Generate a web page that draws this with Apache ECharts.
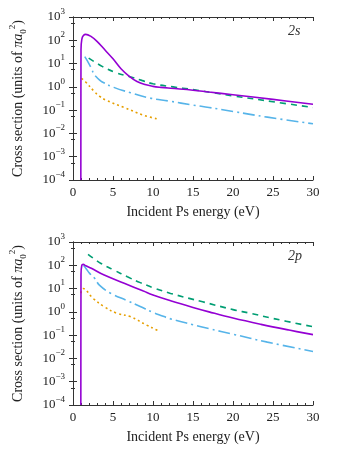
<!DOCTYPE html>
<html><head><meta charset="utf-8">
<script src="https://cdn.jsdelivr.net/npm/echarts@6/dist/echarts.min.js"></script>
<style>html,body{margin:0;padding:0;background:#fff}#c{width:338px;height:450px}</style>
</head><body><div id="c"></div>
<script>
// x ticks (eV) and y decades
var xTicks = [0, 5, 10, 15, 20, 25, 30];
var yExponents = [-4, -3, -2, -1, 0, 1, 2, 3];
var panelLabels = ['2s', '2p'];

// 2s panel: [energy eV, cross section]
var s2_purple = [[0.98,1e-4],[1.0,40],[1.1,110],[1.3,160],[1.6,180],[2.2,150],[3.0,90],[4.0,38],[5.0,16],[6.0,6],[7.0,2.9],[8.0,1.7],[9.0,1.25],[10,1.05],[11,0.95],[12.2,0.87],[15,0.72],[17,0.6],[20,0.46],[25,0.29],[30,0.18]];
var s2_green = [[1.96,17],[3.7,7.4],[5.35,4.1],[7.0,2.8],[8.6,1.9],[10,1.35],[12.5,1.0],[15,0.76],[17.5,0.56],[20,0.41],[25,0.23],[30,0.13]];
var s2_blue = [[1.47,20],[1.8,13],[2.29,6.3],[2.6,3.6],[2.9,2.7],[3.3,2.0],[3.6,1.66],[5.1,0.95],[7.2,0.56],[9.6,0.33],[12,0.245],[15,0.165],[17,0.13],[20,0.088],[24.3,0.05],[30,0.026]];
var s2_orange = [[1.06,2.3],[1.55,1.66],[2.7,0.61],[3.3,0.4],[4.1,0.27],[6.4,0.13],[8.8,0.061],[10.65,0.041]];

// 2p panel
var p2_purple = [[0.98,1e-4],[1.0,40],[1.1,100],[1.27,110],[1.6,95],[2.29,74],[3.9,38],[6.4,17],[8.8,7.8],[10,5.3],[12.2,3.0],[15,1.55],[17,1.0],[20,0.54],[23.5,0.29],[27,0.165],[30,0.105]];
var p2_green = [[1.88,295],[3.5,120],[5.1,63],[6.8,32],[8.4,18],[10,11],[12.2,6.2],[16.2,2.7],[20,1.25],[22.3,0.85],[25,0.52],[30,0.23]];
var p2_blue = [[1.3,100],[1.6,75],[2.08,45],[2.7,28],[3.3,14],[4.7,6.3],[6.8,3.0],[8.4,1.7],[10,0.95],[10.9,0.72],[12.2,0.5],[15,0.28],[17,0.19],[20,0.11],[24.3,0.05],[30,0.02]];
var p2_orange = [[0.98,6.3],[1.27,10],[2.5,3.8],[3.9,1.66],[5.5,0.87],[7.2,0.62],[9.2,0.27],[10.4,0.17],[10.85,0.14]];

var FONT = 'Liberation Serif';
var C_PURPLE = '#9400D3', C_GREEN = '#009E73', C_BLUE = '#56B4E9', C_ORANGE = '#E69F00';
var AX = '#333';
var TXT = '#222';

var grids = [
  {left: 68, top: 17, width: 245, height: 163},
  {left: 68, top: 242, width: 245, height: 163}
];

function supFmt(v) {
  var e = Math.round(Math.log10(v));
  if (yExponents.indexOf(e) < 0) return '';
  return '{b|10}{s|' + (e < 0 ? '\u2212' + (-e) : e) + '}';
}

var xAxes = [], yAxes = [];
grids.forEach(function (g, i) {
  xAxes.push({
    gridIndex: i, type: 'value', min: xTicks[0], max: xTicks[xTicks.length - 1], interval: 5,
    axisLine: {lineStyle: {color: AX, width: 1}},
    axisTick: {inside: true, length: 4, lineStyle: {color: AX}},
    minorTick: {show: true, splitNumber: 5, length: 2, lineStyle: {color: AX}},
    splitLine: {show: false},
    axisLabel: {color: TXT, fontFamily: FONT, fontSize: 13, margin: 6},
    name: 'Incident Ps energy (eV)', nameLocation: 'middle', nameGap: 25,
    nameTextStyle: {color: TXT, fontFamily: FONT, fontSize: 14}
  });
  xAxes.push({
    gridIndex: i, type: 'value', position: 'top', min: xTicks[0], max: xTicks[xTicks.length - 1], interval: 5,
    axisLine: {lineStyle: {color: AX, width: 1}},
    axisTick: {inside: true, length: 4, lineStyle: {color: AX}},
    minorTick: {show: true, splitNumber: 5, length: 2, lineStyle: {color: AX}},
    splitLine: {show: false}, axisLabel: {show: false}
  });
  yAxes.push({
    gridIndex: i, type: 'log', logBase: 10, min: 1e-4, max: 1e3, interval: 1,
    axisLine: {show: true, lineStyle: {color: AX, width: 1}},
    axisTick: {show: true, inside: true, length: 4, lineStyle: {color: AX}},
    minorTick: {show: true, splitNumber: 2, length: 2, lineStyle: {color: AX}},
    splitLine: {show: false},
    axisLabel: {
      color: TXT, fontFamily: FONT, margin: 8, formatter: supFmt,
      rich: {
        b: {fontFamily: FONT, fontSize: 13, color: TXT, lineHeight: 20, verticalAlign: 'middle'},
        s: {fontFamily: FONT, fontSize: 9, color: TXT, lineHeight: 9, verticalAlign: 'top'}
      }
    },
    name: 'Cross section (units of {i|\u03c0a}{sub|0}{sup|2})', nameLocation: 'middle', nameGap: 45, nameRotate: 90,
    nameTextStyle: {
      color: TXT, fontFamily: FONT, fontSize: 14,
      rich: {
        i: {fontFamily: FONT, fontSize: 14, fontStyle: 'italic', color: TXT, lineHeight: 20, verticalAlign: 'middle'},
        sub: {fontFamily: FONT, fontSize: 9, color: TXT, lineHeight: 9, verticalAlign: 'bottom'},
        sup: {fontFamily: FONT, fontSize: 9, color: TXT, lineHeight: 9, verticalAlign: 'top'}
      }
    }
  });
  yAxes.push({
    gridIndex: i, type: 'log', logBase: 10, min: 1e-4, max: 1e3, interval: 1, position: 'right',
    axisLine: {show: true, lineStyle: {color: AX, width: 1}},
    axisTick: {show: true, inside: true, length: 4, lineStyle: {color: AX}},
    minorTick: {show: true, splitNumber: 2, length: 2, lineStyle: {color: AX}},
    splitLine: {show: false}, axisLabel: {show: false}
  });
});

function ser(data, gi, color, type) {
  return {
    type: 'line', data: data, xAxisIndex: gi * 2, yAxisIndex: gi * 2,
    showSymbol: false, smooth: 0.4, clip: true,
    lineStyle: {color: color, width: 1.6, type: type, cap: 'butt'},
    emphasis: {disabled: true}
  };
}

var option = {
  animation: false,
  backgroundColor: '#fff',
  grid: grids,
  xAxis: xAxes,
  yAxis: yAxes,
  graphic: [
    {type: 'text', left: 288, top: 24, style: {text: panelLabels[0], fontFamily: FONT, fontSize: 14, fontStyle: 'italic', fill: '#333'}},
    {type: 'text', left: 288, top: 249, style: {text: panelLabels[1], fontFamily: FONT, fontSize: 14, fontStyle: 'italic', fill: '#333'}}
  ],
  series: [
    ser(s2_orange, 0, C_ORANGE, [2, 3]),
    ser(s2_blue, 0, C_BLUE, [12, 4, 2, 4]),
    ser(s2_green, 0, C_GREEN, [6, 5]),
    ser(s2_purple, 0, C_PURPLE, 'solid'),
    ser(p2_orange, 1, C_ORANGE, [2, 3]),
    ser(p2_blue, 1, C_BLUE, [12, 4, 2, 4]),
    ser(p2_green, 1, C_GREEN, [6, 5]),
    ser(p2_purple, 1, C_PURPLE, 'solid')
  ]
};
echarts.init(document.getElementById('c'), null, {renderer: 'canvas'}).setOption(option);
</script></body></html>
